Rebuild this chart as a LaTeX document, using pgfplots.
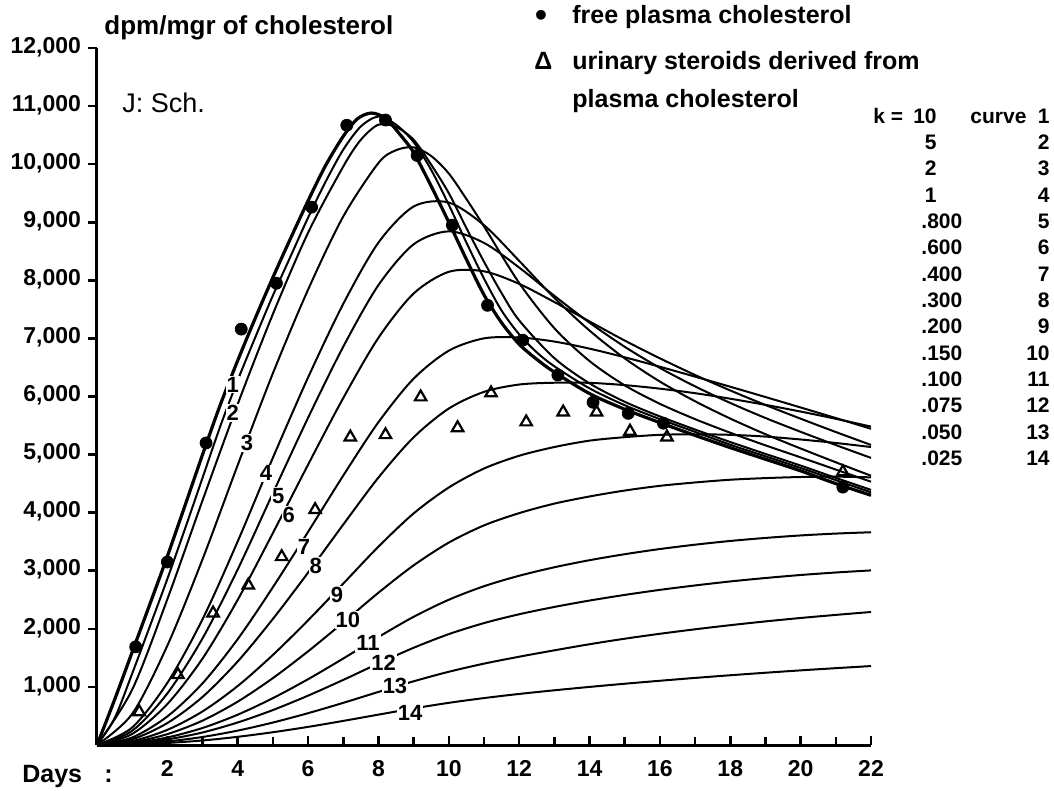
\documentclass[border=0pt]{standalone}
\usepackage{fontspec}
\setmainfont{Liberation Sans}
\usepackage{pgfplots}
\pgfplotsset{compat=1.18}

% sizes: 1 px of the reference = 0.5pt
\newcommand{\tickfont}{\bfseries\fontsize{11.5}{13}\selectfont}
\newcommand{\xtickfont}{\bfseries\fontsize{11.5}{13}\selectfont}
\newcommand{\curvefont}{\bfseries\fontsize{11}{12}\selectfont}
\newcommand{\legfont}{\bfseries\fontsize{12.5}{14}\selectfont}
\newcommand{\tabfont}{\bfseries\fontsize{10.5}{12}\selectfont}

\pgfplotsset{
  kcurve/.style={black, line width=1pt, smooth, no markers},
}
\tikzset{
  clabel/.style={fill=white, inner sep=0.5pt, font=\curvefont},
}

\begin{document}
\begin{tikzpicture}
% frame of the whole picture, in reference pixels
\begin{scope}[x=0.5pt, y=-0.5pt, shift={(-48.5pt,372.5pt)}]
  \path[use as bounding box] (0,0) rectangle (1054,784);
\end{scope}

\begin{axis}[
  at={(0pt,0pt)}, anchor=south west,
  scale only axis, width=387pt, height=348.5pt,
  xmin=0, xmax=22, ymin=0, ymax=12000,
  axis x line=bottom, axis y line=left,
  axis line style={-, line width=1.5pt},
  xtick={2,4,...,22}, minor xtick={1,3,...,21},
  ytick={1000,2000,...,12000},
  xtick align=inside, ytick align=outside,
  major tick length=4.5pt, minor tick length=4pt,
  tick style={line width=1.3pt, black},
  scaled y ticks=false,
  typeset ticklabels with strut,
  /pgf/number format/.cd, 1000 sep={,}, assume math mode=true,
  /pgfplots/.cd,
  yticklabel style={font=\tickfont},
  xticklabel style={font=\xtickfont, yshift=-3pt},
  clip=false,
]

% plasma cholesterol (thick curve through the dots)
\addplot[kcurve, line width=1.6pt] coordinates {
 (0,0) (0.5,780) (1,1600) (1.5,2420) (2,3250) (2.5,4120) (3,5000) (3.5,5850)
 (4,6620) (4.5,7350) (5,8050) (5.5,8720) (6,9370) (6.5,9980) (7,10480)
 (7.4,10780) (7.8,10880) (8.2,10790) (8.6,10520) (9,10200) (9.5,9620)
 (10,9000) (10.5,8360) (11,7750) (11.5,7270) (12,6900) (12.5,6640)
 (13,6420) (14,6050) (15,5780) (16,5550) (17,5330) (18,5120) (19,4920)
 (20,4720) (21,4500) (22,4300)};
% curve 1, k = 10
\addplot[kcurve] coordinates {
 (0,0) (0.5,460) (1,1230) (1.5,2040) (2,2860) (2.5,3720) (3,4600) (3.5,5480)
 (4,6280) (4.5,7020) (5,7740) (5.5,8410) (6,9080) (6.5,9700) (7,10250)
 (7.5,10650) (8,10820) (8.5,10680) (9,10380) (9.5,9900) (10,9300)
 (10.5,8650) (11,8030) (11.5,7480) (12,7070) (12.5,6760) (13,6520)
 (14,6140) (15,5850) (16,5610) (17,5390) (18,5170) (19,4970) (20,4770)
 (21,4560) (22,4350)};
% curve 2, k = 5
\addplot[kcurve] coordinates {
 (0,0) (1,953) (2,2511) (3,4211) (4,5870) (5,7420) (6,8820) (7,9960)
 (7.5,10420) (8,10680) (8.5,10640) (9,10420) (9.5,9990) (10,9500)
 (10.5,8900) (11,8320) (11.5,7780) (12,7310) (13,6660) (14,6226) (15,5909)
 (16,5657) (17,5431) (18,5216) (19,5012) (20,4811) (21,4599) (22,4392)};
% curve 3, k = 2
\addplot[kcurve] coordinates {
 (0,0) (1,536) (2,1712) (3,3198) (4,4820) (5,6400) (6,7840) (7,9100)
 (8,10020) (8.5,10240) (9,10290) (9.5,10140) (10,9839) (10.5,9400)
 (11,8929) (12,7954) (13,7176) (14,6610) (15,6192) (16,5874) (17,5610)
 (18,5376) (19,5159) (20,4952) (21,4742) (22,4533)};
% curve 4, k = 1
\addplot[kcurve] coordinates {
 (0,0) (1,302) (2,1070) (3,2165) (4,3506) (5,4946) (6,6328) (7,7595)
 (8,8650) (9,9271) (10,9339) (11,8950) (12,8335) (13,7697) (14,7135)
 (15,6656) (16,6257) (17,5918) (18,5620) (19,5351) (20,5105) (21,4867)
 (22,4636)};
% curve 5, k = .800
\addplot[kcurve] coordinates {
 (0,0) (1,245) (2,889) (3,1836) (4,3023) (5,4336) (6,5634) (7,6858)
 (8,7918) (9,8620) (10,8843) (11,8645) (12,8220) (13,7733) (14,7271)
 (15,6856) (16,6492) (17,6174) (18,5889) (19,5630) (20,5392) (21,5164)
 (22,4943)};
% curve 6, k = .600
\addplot[kcurve] coordinates {
 (0,0) (1,190) (2,706) (3,1489) (4,2500) (5,3650) (6,4827) (7,5974)
 (8,7011) (9,7773) (10,8147) (11,8155) (12,7939) (13,7626) (14,7292)
 (15,6963) (16,6657) (17,6370) (18,6104) (19,5854) (20,5618) (21,5388)
 (22,5166)};
% curve 7, k = .400
\addplot[kcurve] coordinates {
 (0,0) (1,129) (2,492) (3,1062) (4,1823) (5,2717) (6,3670) (7,4639)
 (8,5558) (9,6307) (10,6789) (11,7001) (12,7016) (13,6946) (14,6824)
 (15,6675) (16,6512) (17,6342) (18,6168) (19,5991) (20,5811) (21,5629)
 (22,5444)};
% curve 8, k = .300
\addplot[kcurve] coordinates {
 (0,0) (1,98) (2,378) (3,828) (4,1439) (5,2171) (6,2968) (7,3796)
 (8,4605) (9,5297) (10,5793) (11,6080) (12,6206) (13,6237) (14,6235)
 (15,6196) (16,6135) (17,6057) (18,5962) (19,5856) (20,5741) (21,5616)
 (22,5482)};
% curve 9, k = .200
\addplot[kcurve] coordinates {
 (0,0) (1,67) (2,261) (3,578) (4,1016) (5,1551) (6,2147) (7,2779)
 (8,3415) (9,3987) (10,4434) (11,4760) (12,4980) (13,5130) (14,5240)
 (15,5300) (16,5340) (17,5350) (18,5340) (19,5310) (20,5260) (21,5200)
 (22,5130)};
% curve 10, k = .150
\addplot[kcurve] coordinates {
 (0,0) (1,47) (2,187) (3,420) (4,747) (5,1152) (6,1613) (7,2110)
 (8,2622) (9,3093) (10,3485) (11,3781) (12,3992) (13,4156) (14,4279)
 (15,4381) (16,4462) (17,4520) (18,4567) (19,4595) (20,4614) (21,4620)
 (22,4608)};
% curve 11, k = .100
\addplot[kcurve] coordinates {
 (0,0) (1,33) (2,130) (3,293) (4,522) (5,807) (6,1133) (7,1489)
 (8,1859) (9,2207) (10,2501) (11,2734) (12,2914) (13,3060) (14,3182)
 (15,3285) (16,3374) (17,3449) (18,3513) (19,3565) (20,3608) (21,3640)
 (22,3663)};
% curve 12, k = .075
\addplot[kcurve] coordinates {
 (0,0) (1,24) (2,96) (3,216) (4,388) (5,602) (6,850) (7,1121)
 (8,1404) (9,1674) (10,1909) (11,2099) (12,2251) (13,2377) (14,2487)
 (15,2584) (16,2671) (17,2747) (18,2816) (19,2875) (20,2927) (21,2970)
 (22,3006)};
% curve 13, k = .050
\addplot[kcurve] coordinates {
 (0,0) (1,15) (2,61) (3,138) (4,248) (5,387) (6,548) (7,726)
 (8,914) (9,1097) (10,1261) (11,1401) (12,1520) (13,1630) (14,1735)
 (15,1830) (16,1915) (17,1992) (18,2063) (19,2128) (20,2187) (21,2240)
 (22,2290)};
% curve 14, k = .025
\addplot[kcurve] coordinates {
 (0,0) (1,9) (2,35) (3,78) (4,141) (5,220) (6,312) (7,415)
 (8,523) (9,630) (10,726) (11,808) (12,879) (13,942) (14,1000)
 (15,1055) (16,1106) (17,1155) (18,1201) (19,1244) (20,1285) (21,1323)
 (22,1359)};

% free plasma cholesterol
\addplot[only marks, mark=*, mark size=3pt, black] coordinates {
 (1.1,1690) (2.0,3150) (3.1,5200) (4.1,7160) (5.1,7950) (6.1,9260)
 (7.1,10670) (8.2,10760) (9.1,10150) (10.1,8950) (11.1,7570) (12.1,6970)
 (13.1,6370) (14.1,5900) (15.1,5710) (16.1,5540) (21.2,4440)};
% urinary steroids derived from plasma cholesterol
\addplot[only marks, mark=triangle, mark size=3.3pt, black,
  mark options={line width=1.1pt, fill=white}] coordinates {
 (1.2,570) (2.3,1210) (3.3,2270) (4.3,2750) (5.25,3240) (6.2,4050)
 (7.2,5300) (8.2,5340) (9.2,5990) (10.25,5460) (11.2,6060) (12.2,5560)
 (13.25,5730) (14.2,5730) (15.15,5400) (16.2,5300) (21.2,4700)};

% curve numbers
\node[clabel] at (axis cs:3.86,6200) {1};
\node[clabel] at (axis cs:3.86,5714) {2};
\node[clabel] at (axis cs:4.26,5198) {3};
\node[clabel] at (axis cs:4.80,4680) {4};
\node[clabel] at (axis cs:5.15,4290) {5};
\node[clabel] at (axis cs:5.45,3960) {6};
\node[clabel] at (axis cs:5.88,3408) {7};
\node[clabel] at (axis cs:6.22,3081) {8};
\node[clabel] at (axis cs:6.82,2582) {9};
\node[clabel] at (axis cs:7.13,2151) {10};
\node[clabel] at (axis cs:7.70,1756) {11};
\node[clabel] at (axis cs:8.15,1411) {12};
\node[clabel] at (axis cs:8.47,1015) {13};
\node[clabel] at (axis cs:8.90,551) {14};
\end{axis}

% texts, in reference pixels
\begin{scope}[x=0.5pt, y=-0.5pt, shift={(-48.5pt,372.5pt)}]
  \node[anchor=base west, inner sep=0pt, font=\bfseries\fontsize{13}{15}\selectfont]
    at (104,35) {dpm/mgr of cholesterol};
  \node[anchor=base west, inner sep=0pt, font=\fontsize{13.5}{15}\selectfont]
    at (122,113) {J: Sch.};
  \node[anchor=base west, inner sep=0pt, font=\bfseries\fontsize{12.5}{14}\selectfont]
    at (22,782) {Days};
  \node[anchor=base west, inner sep=0pt, font=\bfseries\fontsize{12.5}{14}\selectfont]
    at (104,782) {:};
  % legend
  \node[inner sep=0pt, font=\bfseries\fontsize{17}{17}\selectfont] at (541,18) {•};
  \node[anchor=base west, inner sep=0pt, font=\legfont] at (572,24) {free plasma cholesterol};
  \node[anchor=base west, inner sep=0pt, font=\legfont] at (534,70) {Δ};
  \node[anchor=base west, inner sep=0pt, font=\legfont] at (572,70) {urinary steroids derived from};
  \node[anchor=base west, inner sep=0pt, font=\legfont] at (572,108) {plasma cholesterol};
  % k table
  \begin{scope}[every node/.style={inner sep=0pt, font=\tabfont}]
    \node[anchor=base west] at (873,124) {k =};
    \node[anchor=base east] at (937,124) {10};
    \node[anchor=base west] at (970,124) {curve};
    \node[anchor=base east] at (937,150) {5};
    \node[anchor=base east] at (937,176) {2};
    \node[anchor=base east] at (937,203) {1};
    \node[anchor=base west] at (921,229) {.800};
    \node[anchor=base west] at (921,255) {.600};
    \node[anchor=base west] at (921,282) {.400};
    \node[anchor=base west] at (921,308) {.300};
    \node[anchor=base west] at (921,334) {.200};
    \node[anchor=base west] at (921,361) {.150};
    \node[anchor=base west] at (921,387) {.100};
    \node[anchor=base west] at (921,413) {.075};
    \node[anchor=base west] at (921,440) {.050};
    \node[anchor=base west] at (921,466) {.025};
    \node[anchor=base east] at (1050,124) {1};
    \node[anchor=base east] at (1050,150) {2};
    \node[anchor=base east] at (1050,176) {3};
    \node[anchor=base east] at (1050,203) {4};
    \node[anchor=base east] at (1050,229) {5};
    \node[anchor=base east] at (1050,255) {6};
    \node[anchor=base east] at (1050,282) {7};
    \node[anchor=base east] at (1050,308) {8};
    \node[anchor=base east] at (1050,334) {9};
    \node[anchor=base east] at (1050,361) {10};
    \node[anchor=base east] at (1050,387) {11};
    \node[anchor=base east] at (1050,413) {12};
    \node[anchor=base east] at (1050,440) {13};
    \node[anchor=base east] at (1050,466) {14};
  \end{scope}
\end{scope}
\end{tikzpicture}
\end{document}
